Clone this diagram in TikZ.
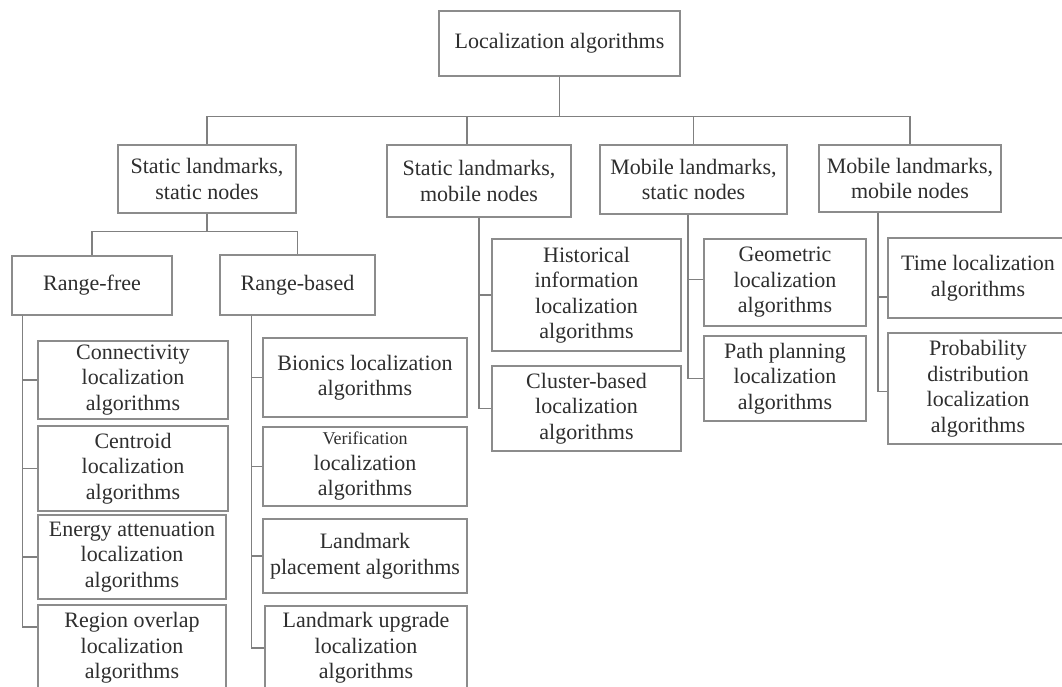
\documentclass[tikz,border=0pt]{standalone}
\usepackage{fontspec}
\setmainfont{Liberation Serif}
\usepackage{tikz}
\definecolor{boxgray}{HTML}{8C8C8C}
\definecolor{linkgray}{HTML}{808080}
\definecolor{txtgray}{HTML}{2E2E2E}
\begin{document}
\begin{tikzpicture}[x=1pt, y=-1pt,
  box/.style={rectangle, draw=boxgray, fill=white, line width=1.1pt, inner sep=0pt,
              align=center, text=txtgray, font=\fontsize{22}{25.5}\selectfont},
  link/.style={draw=linkgray, line width=1.1pt}]
  \fill[white] (0,0) rectangle (1062,686);
  \useasboundingbox (0,0) rectangle (1062,686);
  \node[box, minimum width=241pt, minimum height=65pt] (root) at (559.5,43.5) {Localization algorithms};
  \node[box, minimum width=178pt, minimum height=68pt] (sss) at (207,179) {Static landmarks,\\ static nodes};
  \node[box, minimum width=184pt, minimum height=72pt] (ssm) at (479,181) {Static landmarks,\\ mobile nodes};
  \node[box, minimum width=187pt, minimum height=69pt] (msn) at (693.5,179.5) {Mobile landmarks,\\ static nodes};
  \node[box, minimum width=182pt, minimum height=67pt] (mmn) at (910,178.5) {Mobile landmarks,\\ mobile nodes};
  \node[box, minimum width=160pt, minimum height=59pt] (rfree) at (92,285.5) {Range-free};
  \node[box, minimum width=155pt, minimum height=60pt] (rbased) at (297.5,285) {Range-based};
  \node[box, minimum width=190pt, minimum height=78pt] (conn) at (133,380) {Connectivity\\ localization\\ algorithms};
  \node[box, minimum width=190pt, minimum height=85pt] (cent) at (133,468.5) {Centroid\\ localization\\ algorithms};
  \node[box, minimum width=188pt, minimum height=84pt] (energy) at (132,557) {Energy attenuation\\ localization\\ algorithms};
  \node[box, minimum width=188pt, minimum height=86pt] (region) at (132,648) {Region overlap\\ localization\\ algorithms};
  \node[box, minimum width=204pt, minimum height=79pt] (bionic) at (365,377.5) {Bionics localization\\ algorithms};
  \node[box, minimum width=204pt, minimum height=79pt] (verif) at (365,466.5)
       {{\fontsize{18}{25.5}\selectfont Verification}\\ localization\\ algorithms};
  \node[box, minimum width=204pt, minimum height=74pt] (place) at (365,556) {Landmark\\ placement algorithms};
  \node[box, minimum width=202pt, minimum height=84pt] (upgrade) at (366,648) {Landmark upgrade\\ localization\\ algorithms};
  \node[box, minimum width=189pt, minimum height=112pt] (hist) at (586.5,295) {Historical\\ information\\ localization\\ algorithms};
  \node[box, minimum width=189pt, minimum height=85pt] (clust) at (586.5,408.5) {Cluster-based\\ localization\\ algorithms};
  \node[box, minimum width=162pt, minimum height=87pt] (geom) at (785,282.5) {Geometric\\ localization\\ algorithms};
  \node[box, minimum width=162pt, minimum height=85pt] (path) at (785,378.5) {Path planning\\ localization\\ algorithms};
  \node[box, minimum width=180pt, minimum height=80pt] (time) at (978,278) {Time localization\\ algorithms};
  \node[box, minimum width=180pt, minimum height=111pt] (prob) at (978,388.5) {Probability\\ distribution\\ localization\\ algorithms};
  \draw[link] (root.south) -- ++(0,39.5) -| (sss.north);
  \draw[link] (root.south) -- ++(0,39.5) -| ([xshift=-12pt]ssm.north);
  \draw[link] (root.south) -- ++(0,39.5) -| (msn.north);
  \draw[link] (root.south) -- ++(0,39.5) -| (mmn.north);
  \draw[link] (sss.south) -- ++(0,18) -| (rfree.north);
  \draw[link] (sss.south) -- ++(0,18) -| (rbased.north);
  \draw[link] ([xshift=11pt]rfree.south west) |- (conn.west);
  \draw[link] ([xshift=11pt]rfree.south west) |- (cent.west);
  \draw[link] ([xshift=11pt]rfree.south west) |- (energy.west);
  \draw[link] ([xshift=11pt]rfree.south west) |- ([yshift=21pt]region.west);
  \draw[link] ([xshift=32pt]rbased.south west) |- (bionic.west);
  \draw[link] ([xshift=32pt]rbased.south west) |- (verif.west);
  \draw[link] ([xshift=32pt]rbased.south west) |- (place.west);
  \draw[link] ([xshift=32pt]rbased.south west) |- (upgrade.west);
  \draw[link] (ssm.south) |- (hist.west);
  \draw[link] (ssm.south) |- (clust.west);
  \draw[link] ([xshift=-5.5pt]msn.south) |- ([yshift=3pt]geom.west);
  \draw[link] ([xshift=-5.5pt]msn.south) |- (path.west);
  \draw[link] ([xshift=-32pt]mmn.south) |- ([yshift=-19pt]time.west);
  \draw[link] ([xshift=-32pt]mmn.south) |- ([yshift=-3pt]prob.west);
\end{tikzpicture}
\end{document}
